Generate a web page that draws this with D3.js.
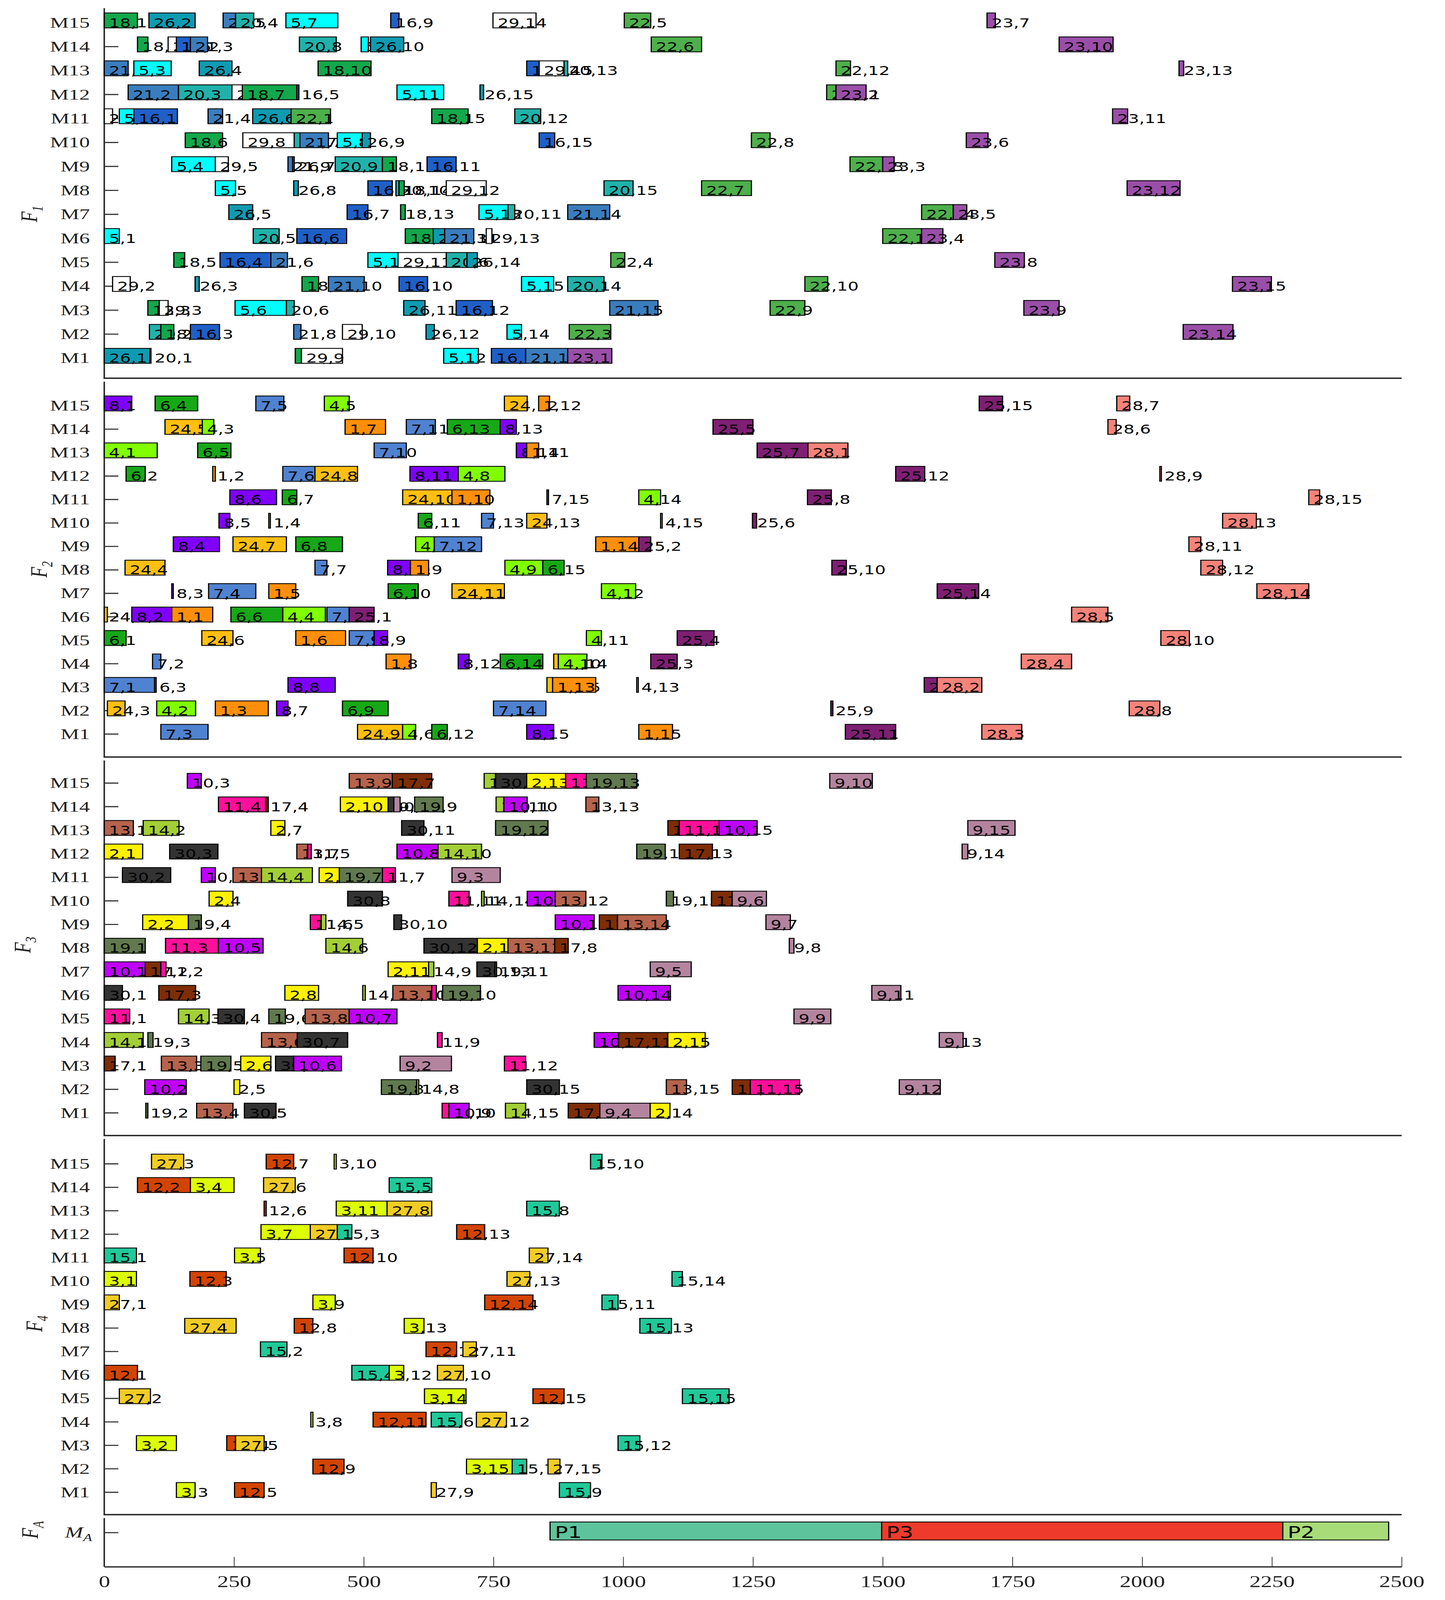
<!DOCTYPE html>
<html>
<head>
<meta charset="utf-8">
<script src="https://cdn.jsdelivr.net/npm/d3@7"></script>
<style>
  html, body { margin: 0; padding: 0; background: #fff; overflow: hidden; }
  #chart svg { display: block; width: 100vw; height: 100vh; }
</style>
</head>
<body>
<div id="chart"></div>
<script>
// machines, top row first
const machines = ["M15","M14","M13","M12","M11","M10","M9","M8","M7","M6","M5","M4","M3","M2","M1"];
const xTicks = [0, 250, 500, 750, 1000, 1250, 1500, 1750, 2000, 2250, 2500];

// [machine, start, end, "job,operation"]
const tasksF1 = [
  ["M15",0,64,"18,1"],["M15",86,175,"26,2"],["M15",229,253,"21,5"],["M15",253,288,"20,4"],
  ["M15",350,450,"5,7"],["M15",552,568,"16,9"],["M15",749,832,"29,14"],["M15",1002,1053,"22,5"],
  ["M15",1701,1717,"23,7"],
  ["M14",64,84,"18,2"],["M14",123,139,"29,6"],["M14",139,166,"16,2"],["M14",166,199,"21,3"],
  ["M14",376,447,"20,8"],["M14",495,509,"5,9"],["M14",513,577,"26,10"],["M14",1054,1151,"22,6"],
  ["M14",1840,1944,"23,10"],
  ["M13",0,46,"21,1"],["M13",57,129,"5,3"],["M13",183,246,"26,4"],["M13",412,514,"18,10"],
  ["M13",814,838,"16,14"],["M13",838,886,"29,15"],["M13",886,893,"20,13"],["M13",1410,1438,"22,12"],
  ["M13",2071,2080,"23,13"],
  ["M12",46,143,"21,2"],["M12",143,246,"20,3"],["M12",246,266,"29,4"],["M12",266,371,"18,7"],
  ["M12",371,375,"16,5"],["M12",564,654,"5,11"],["M12",724,731,"26,15"],["M12",1392,1410,"22,11"],
  ["M12",1410,1468,"23,2"],
  ["M11",0,16,"29,1"],["M11",29,57,"5,2"],["M11",57,141,"16,1"],["M11",200,228,"21,4"],
  ["M11",286,360,"26,6"],["M11",360,436,"22,1"],["M11",631,701,"18,15"],["M11",791,841,"20,12"],
  ["M11",1943,1972,"23,11"],
  ["M10",156,228,"18,6"],["M10",267,366,"29,8"],["M10",366,377,"20,7"],["M10",377,432,"21,7"],
  ["M10",449,497,"5,8"],["M10",497,513,"26,9"],["M10",838,868,"16,15"],["M10",1247,1283,"22,8"],
  ["M10",1661,1703,"23,6"],
  ["M9",130,214,"5,4"],["M9",214,239,"29,5"],["M9",354,363,"21,9"],["M9",363,366,"26,7"],
  ["M9",445,536,"20,9"],["M9",536,563,"18,11"],["M9",622,678,"16,11"],["M9",1437,1500,"22,13"],
  ["M9",1500,1522,"23,3"],
  ["M8",214,253,"5,5"],["M8",365,374,"26,8"],["M8",508,555,"16,8"],["M8",562,568,"20,10"],
  ["M8",568,578,"18,14"],["M8",659,736,"29,12"],["M8",963,1019,"20,15"],["M8",1151,1247,"22,7"],
  ["M8",1971,2073,"23,12"],
  ["M7",240,286,"26,5"],["M7",468,508,"16,7"],["M7",571,580,"18,13"],["M7",722,778,"5,13"],
  ["M7",778,791,"20,11"],["M7",893,974,"21,14"],["M7",1575,1636,"22,14"],["M7",1636,1662,"23,5"],
  ["M6",0,29,"5,1"],["M6",287,337,"20,5"],["M6",371,467,"16,6"],["M6",580,634,"18,12"],
  ["M6",634,656,"26,13"],["M6",656,712,"21,11"],["M6",736,747,"29,13"],["M6",1500,1575,"22,15"],
  ["M6",1575,1616,"23,4"],
  ["M5",134,155,"18,5"],["M5",223,321,"16,4"],["M5",321,353,"21,6"],["M5",508,566,"5,10"],
  ["M5",566,659,"29,11"],["M5",659,699,"20,6"],["M5",699,719,"26,14"],["M5",976,1003,"22,4"],
  ["M5",1716,1773,"23,8"],
  ["M4",16,50,"29,2"],["M4",175,183,"26,3"],["M4",381,413,"18,8"],["M4",432,501,"21,10"],
  ["M4",568,623,"16,10"],["M4",804,866,"5,15"],["M4",893,963,"20,14"],["M4",1350,1394,"22,10"],
  ["M4",2174,2249,"23,15"],
  ["M3",84,106,"18,3"],["M3",106,123,"29,3"],["M3",252,351,"5,6"],["M3",351,366,"20,6"],
  ["M3",577,618,"26,11"],["M3",678,748,"16,12"],["M3",974,1067,"21,15"],["M3",1283,1350,"22,9"],
  ["M3",1772,1840,"23,9"],
  ["M2",87,109,"20,2"],["M2",109,134,"18,4"],["M2",166,222,"16,3"],["M2",365,379,"21,8"],
  ["M2",459,497,"29,10"],["M2",620,636,"26,12"],["M2",776,804,"5,14"],["M2",896,976,"22,3"],
  ["M2",2079,2175,"23,14"],
  ["M1",0,88,"26,1"],["M1",88,90,"20,1"],["M1",368,380,"18,9"],["M1",380,459,"29,9"],
  ["M1",654,721,"5,12"],["M1",746,812,"16,13"],["M1",812,893,"21,13"],["M1",893,978,"23,1"]
];

const tasksF2 = [
  ["M15",0,53,"8,1"],["M15",98,180,"6,4"],["M15",292,346,"7,5"],["M15",424,472,"4,5"],
  ["M15",771,815,"24,12"],["M15",837,858,"1,12"],["M15",1686,1731,"25,15"],["M15",1951,1976,"28,7"],
  ["M14",117,189,"24,5"],["M14",189,211,"4,3"],["M14",464,542,"1,7"],["M14",582,638,"7,11"],
  ["M14",661,763,"6,13"],["M14",763,794,"8,13"],["M14",1173,1250,"25,5"],["M14",1934,1950,"28,6"],
  ["M13",0,102,"4,1"],["M13",180,244,"6,5"],["M13",520,582,"7,10"],["M13",794,814,"8,14"],
  ["M13",814,837,"1,11"],["M13",1258,1356,"25,7"],["M13",1356,1433,"28,1"],
  ["M12",42,79,"6,2"],["M12",209,214,"1,2"],["M12",344,406,"7,6"],["M12",406,488,"24,8"],
  ["M12",589,682,"8,11"],["M12",682,772,"4,8"],["M12",1525,1581,"25,12"],["M12",2034,2037,"28,9"],
  ["M11",242,332,"8,6"],["M11",343,371,"6,7"],["M11",575,670,"24,10"],["M11",670,743,"1,10"],
  ["M11",853,856,"7,15"],["M11",1030,1072,"4,14"],["M11",1355,1401,"25,8"],["M11",2321,2342,"28,15"],
  ["M10",221,242,"8,5"],["M10",317,320,"1,4"],["M10",605,631,"6,11"],["M10",727,750,"7,13"],
  ["M10",814,853,"24,13"],["M10",1072,1075,"4,15"],["M10",1249,1257,"25,6"],["M10",2155,2220,"28,13"],
  ["M9",133,222,"8,4"],["M9",248,351,"24,7"],["M9",369,459,"6,8"],["M9",600,636,"4,7"],
  ["M9",636,727,"7,12"],["M9",947,1030,"1,14"],["M9",1030,1053,"25,2"],["M9",2090,2113,"28,11"],
  ["M8",40,117,"24,4"],["M8",406,429,"7,7"],["M8",546,590,"8,10"],["M8",590,625,"1,9"],
  ["M8",772,845,"4,9"],["M8",845,886,"6,15"],["M8",1402,1430,"25,10"],["M8",2113,2155,"28,12"],
  ["M7",130,133,"8,3"],["M7",201,292,"7,4"],["M7",317,369,"1,5"],["M7",547,605,"6,10"],
  ["M7",670,771,"24,11"],["M7",958,1024,"4,12"],["M7",1605,1685,"25,14"],["M7",2221,2321,"28,14"],
  ["M6",0,6,"24,2"],["M6",53,130,"8,2"],["M6",130,209,"1,1"],["M6",244,344,"6,6"],
  ["M6",344,426,"4,4"],["M6",429,472,"7,8"],["M6",472,520,"25,1"],["M6",1864,1934,"28,5"],
  ["M5",0,42,"6,1"],["M5",188,248,"24,6"],["M5",369,465,"1,6"],["M5",472,520,"7,9"],
  ["M5",520,546,"8,9"],["M5",929,958,"4,11"],["M5",1104,1175,"25,4"],["M5",2036,2091,"28,10"],
  ["M4",93,109,"7,2"],["M4",543,591,"1,8"],["M4",682,703,"8,12"],["M4",763,845,"6,14"],
  ["M4",866,875,"24,14"],["M4",875,930,"4,10"],["M4",1053,1104,"25,3"],["M4",1767,1864,"28,4"],
  ["M3",0,97,"7,1"],["M3",97,100,"6,3"],["M3",354,445,"8,8"],["M3",853,864,"24,15"],
  ["M3",864,947,"1,13"],["M3",1026,1029,"4,13"],["M3",1580,1605,"25,13"],["M3",1605,1691,"28,2"],
  ["M2",6,40,"24,3"],["M2",101,176,"4,2"],["M2",214,316,"1,3"],["M2",332,354,"8,7"],
  ["M2",459,547,"6,9"],["M2",750,851,"7,14"],["M2",1400,1404,"25,9"],["M2",1975,2034,"28,8"],
  ["M1",109,200,"7,3"],["M1",488,575,"24,9"],["M1",575,600,"4,6"],["M1",631,661,"6,12"],
  ["M1",814,866,"8,15"],["M1",1030,1095,"1,15"],["M1",1428,1525,"25,11"],["M1",1691,1768,"28,3"]
];

const tasksF3 = [
  ["M15",160,187,"10,3"],["M15",472,555,"13,9"],["M15",555,631,"17,7"],["M15",732,754,"14,12"],
  ["M15",754,814,"30,14"],["M15",814,889,"2,13"],["M15",889,929,"11,13"],["M15",929,1026,"19,13"],
  ["M15",1398,1480,"9,10"],
  ["M14",220,311,"11,4"],["M14",311,316,"17,4"],["M14",455,547,"2,10"],["M14",547,558,"30,9"],
  ["M14",558,570,"9,1"],["M14",598,653,"19,9"],["M14",755,770,"14,11"],["M14",770,815,"10,10"],
  ["M14",928,953,"13,13"],
  ["M13",0,56,"13,1"],["M13",75,144,"14,2"],["M13",321,348,"2,7"],["M13",573,616,"30,11"],
  ["M13",754,855,"19,12"],["M13",1086,1108,"17,12"],["M13",1108,1185,"11,14"],["M13",1185,1258,"10,15"],
  ["M13",1664,1755,"9,15"],
  ["M12",0,74,"2,1"],["M12",126,219,"30,3"],["M12",371,392,"13,7"],["M12",392,399,"11,5"],
  ["M12",564,643,"10,8"],["M12",643,727,"14,10"],["M12",1026,1081,"19,14"],["M12",1108,1172,"17,13"],
  ["M12",1653,1664,"9,14"],
  ["M11",35,128,"30,2"],["M11",187,214,"10,4"],["M11",248,303,"13,5"],["M11",303,401,"14,4"],
  ["M11",414,453,"2,9"],["M11",453,536,"19,7"],["M11",536,561,"11,7"],["M11",670,763,"9,3"],
  ["M10",202,248,"2,4"],["M10",469,536,"30,8"],["M10",664,703,"11,11"],["M10",727,732,"14,14"],
  ["M10",815,869,"10,12"],["M10",869,928,"13,12"],["M10",1083,1097,"19,15"],["M10",1170,1210,"17,14"],
  ["M10",1210,1276,"9,6"],
  ["M9",74,162,"2,2"],["M9",162,187,"19,4"],["M9",397,418,"11,6"],["M9",418,427,"14,5"],
  ["M9",558,573,"30,10"],["M9",869,944,"10,11"],["M9",954,989,"17,10"],["M9",989,1083,"13,14"],
  ["M9",1275,1322,"9,7"],
  ["M8",0,79,"19,1"],["M8",118,220,"11,3"],["M8",220,306,"10,5"],["M8",427,498,"14,6"],
  ["M8",616,719,"30,12"],["M8",719,778,"2,12"],["M8",778,868,"13,11"],["M8",868,894,"17,8"],
  ["M8",1320,1329,"9,8"],
  ["M7",0,79,"10,1"],["M7",79,109,"17,2"],["M7",109,119,"11,2"],["M7",547,625,"2,11"],
  ["M7",625,635,"14,9"],["M7",718,753,"30,13"],["M7",753,756,"19,11"],["M7",1052,1131,"9,5"],
  ["M6",0,35,"30,1"],["M6",105,176,"17,3"],["M6",348,413,"2,8"],["M6",498,503,"14,7"],
  ["M6",556,631,"13,10"],["M6",631,640,"11,8"],["M6",652,725,"19,10"],["M6",990,1091,"10,14"],
  ["M6",1479,1535,"9,11"],
  ["M5",0,49,"11,1"],["M5",143,202,"14,3"],["M5",219,270,"30,4"],["M5",317,349,"19,6"],
  ["M5",387,472,"13,8"],["M5",472,564,"10,7"],["M5",1329,1400,"9,9"],
  ["M4",0,75,"14,1"],["M4",84,94,"19,3"],["M4",303,372,"13,6"],["M4",372,469,"30,7"],
  ["M4",642,651,"11,9"],["M4",944,991,"10,13"],["M4",991,1086,"17,11"],["M4",1086,1158,"2,15"],
  ["M4",1609,1655,"9,13"],
  ["M3",0,21,"17,1"],["M3",110,178,"13,3"],["M3",186,244,"19,5"],["M3",263,321,"2,6"],
  ["M3",330,365,"30,6"],["M3",365,457,"10,6"],["M3",570,669,"9,2"],["M3",771,812,"11,12"],
  ["M2",78,158,"10,2"],["M2",250,261,"2,5"],["M2",534,602,"19,8"],["M2",602,606,"14,8"],
  ["M2",814,877,"30,15"],["M2",1083,1122,"13,15"],["M2",1210,1245,"17,15"],["M2",1245,1340,"11,15"],
  ["M2",1532,1611,"9,12"],
  ["M1",80,84,"19,2"],["M1",178,248,"13,4"],["M1",270,331,"30,5"],["M1",651,664,"11,10"],
  ["M1",664,703,"10,9"],["M1",773,812,"14,15"],["M1",894,955,"17,9"],["M1",955,1052,"9,4"],
  ["M1",1052,1090,"2,14"]
];

const tasksF4 = [
  ["M15",91,153,"27,3"],["M15",312,365,"12,7"],["M15",443,447,"3,10"],["M15",937,959,"15,10"],
  ["M14",64,166,"12,2"],["M14",166,250,"3,4"],["M14",307,368,"27,6"],["M14",549,631,"15,5"],
  ["M13",308,312,"12,6"],["M13",447,545,"3,11"],["M13",545,631,"27,8"],["M13",814,877,"15,8"],
  ["M12",302,397,"3,7"],["M12",397,449,"27,7"],["M12",449,477,"15,3"],["M12",679,733,"12,13"],
  ["M11",0,62,"15,1"],["M11",251,301,"3,5"],["M11",462,518,"12,10"],["M11",819,855,"27,14"],
  ["M10",0,62,"3,1"],["M10",165,235,"12,3"],["M10",776,820,"27,13"],["M10",1094,1114,"15,14"],
  ["M9",0,29,"27,1"],["M9",402,445,"3,9"],["M9",733,826,"12,14"],["M9",959,990,"15,11"],
  ["M8",155,254,"27,4"],["M8",366,402,"12,8"],["M8",578,616,"3,13"],["M8",1032,1093,"15,13"],
  ["M7",301,352,"15,2"],["M7",620,679,"12,12"],["M7",691,717,"27,11"],
  ["M6",0,64,"12,1"],["M6",477,549,"15,4"],["M6",549,577,"3,12"],["M6",642,692,"27,10"],
  ["M5",29,89,"27,2"],["M5",617,697,"3,14"],["M5",826,886,"12,15"],["M5",1114,1204,"15,15"],
  ["M4",398,402,"3,8"],["M4",518,620,"12,11"],["M4",630,689,"15,6"],["M4",717,775,"27,12"],
  ["M3",62,139,"3,2"],["M3",236,253,"12,4"],["M3",253,308,"27,5"],["M3",990,1032,"15,12"],
  ["M2",402,462,"12,9"],["M2",698,786,"3,15"],["M2",786,814,"15,7"],["M2",855,878,"27,15"],
  ["M1",139,175,"3,3"],["M1",251,308,"12,5"],["M1",630,640,"27,9"],["M1",877,937,"15,9"]
];

// assembly machine
const assembly = [["MA",859,1498,"P1"],["MA",1498,2271,"P3"],["MA",2271,2475,"P2"]];

const jobColors = {
  5:"#00FFFF", 16:"#1E5FC8", 18:"#12A84B", 20:"#20B2AA", 21:"#3A7DBE", 22:"#4DB04A",
  23:"#9A4EA8", 26:"#0E9BB2", 29:"#FFFFFF",
  1:"#FF8F0A", 4:"#80FF00", 6:"#16A816", 7:"#4F82D0", 8:"#8000FF", 24:"#FFBF10",
  25:"#7E1F73", 28:"#F5837A",
  2:"#FFF200", 9:"#B4849F", 10:"#C000FF", 11:"#FF0F9A", 13:"#B5634C", 14:"#A2CF35",
  17:"#7E2D05", 19:"#61794E", 30:"#333333",
  3:"#DDFF00", 12:"#D24400", 15:"#20C99A", 27:"#F2CC24"
};
const productColors = {P1:"#5DC39D", P3:"#EE3A2A", P2:"#A8DC78"};

// drawing is done in a 3700 x 5681 coordinate system that fills the window
const W = 3700, H = 5681;
const axisX = 267;
const svg = d3.select("#chart").append("svg")
    .attr("viewBox", `0 0 ${W} ${H}`)
    .attr("preserveAspectRatio", "none")
    .style("background", "#fff");

const x = d3.scaleLinear().domain([0, 2500]).range([axisX, 3589]);

const panels = [
  {sub:"1", tasks:tasksF1, top:29,   bottom:1343, yTop:80,   yBot:1271, lx:75,  ly:760},
  {sub:"2", tasks:tasksF2, top:1355, bottom:2688, yTop:1440, yBot:2606, lx:100, ly:2022},
  {sub:"3", tasks:tasksF3, top:2700, bottom:4032, yTop:2780, yBot:3951, lx:58,  ly:3355},
  {sub:"4", tasks:tasksF4, top:4044, bottom:5378, yTop:4132, yBot:5298, lx:88,  ly:4700}
];

function drawBars(g, tasks, y, colorOf, barH, offset, fontSize) {
  // later starts are drawn on top of earlier labels
  const sorted = tasks.slice().sort((a, b) => a[1] - b[1]);
  const items = g.selectAll("g.task").data(sorted).join("g").attr("class", "task");
  items.append("rect")
      .attr("x", d => x(d[1]))
      .attr("y", d => y(d[0]) - offset - barH / 2)
      .attr("width", d => Math.max(x(d[2]) - x(d[1]), 1))
      .attr("height", barH)
      .attr("fill", colorOf)
      .attr("stroke", "#000")
      .attr("stroke-width", 3);
  items.append("text")
      .attr("x", d => x(d[1]) + 12)
      .attr("y", d => y(d[0]) - offset + 24)
      .attr("font-family", "DejaVu Sans")
      .attr("font-size", fontSize)
      .attr("fill", "#000")
      .text(d => d[3]);
}

function sideLabel(lx, ly, main, sub) {
  const t = svg.append("text")
      .attr("transform", `translate(${lx},${ly}) rotate(-90)`)
      .attr("y", 20)
      .attr("text-anchor", "middle")
      .attr("font-family", "Liberation Serif")
      .attr("font-style", "italic")
      .attr("font-size", 62)
      .attr("fill", "#222");
  t.append("tspan").text(main);
  t.append("tspan").attr("dy", 14).attr("font-size", 40).text(sub);
}

panels.forEach(p => {
  const y = d3.scalePoint().domain(machines).range([p.yTop, p.yBot]);
  const g = svg.append("g");

  const ya = g.append("g")
      .attr("transform", `translate(${axisX},0)`)
      .call(d3.axisLeft(y).tickSizeInner(-36).tickSizeOuter(0).tickPadding(37));
  ya.select(".domain").remove();
  ya.selectAll(".tick line").attr("stroke", "#333").attr("stroke-width", 4);
  ya.selectAll(".tick text")
      .attr("font-family", "Liberation Serif")
      .attr("font-size", 54)
      .attr("fill", "#222");

  g.append("line")
      .attr("x1", axisX).attr("x2", axisX)
      .attr("y1", p.top).attr("y2", p.bottom)
      .attr("stroke", "#333").attr("stroke-width", 4);
  g.append("line")
      .attr("x1", axisX - 2).attr("x2", x(2500))
      .attr("y1", p.bottom).attr("y2", p.bottom)
      .attr("stroke", "#222").attr("stroke-width", 5);

  drawBars(g.append("g"), p.tasks, y, d => jobColors[+d[3].split(",")[0]], 53, 7.5, 44);
  sideLabel(p.lx, p.ly, "F", p.sub);
});

// assembly panel
const yA = d3.scalePoint().domain(["MA"]).range([5442, 5442]);
const gA = svg.append("g");
gA.append("line")
    .attr("x1", axisX).attr("x2", axisX)
    .attr("y1", 5390).attr("y2", 5563)
    .attr("stroke", "#333").attr("stroke-width", 4);
gA.append("line")
    .attr("x1", axisX).attr("x2", axisX + 36)
    .attr("y1", yA("MA")).attr("y2", yA("MA"))
    .attr("stroke", "#333").attr("stroke-width", 4);
const ma = gA.append("text")
    .attr("x", 236).attr("y", yA("MA") + 17)
    .attr("text-anchor", "end")
    .attr("font-family", "Liberation Serif")
    .attr("font-style", "italic")
    .attr("font-size", 56)
    .attr("fill", "#222");
ma.append("tspan").text("M");
ma.append("tspan").attr("dy", 12).attr("font-size", 38).text("A");
drawBars(gA.append("g"), assembly, yA, d => productColors[d[3]], 64, 6, 56);
sideLabel(77, 5432, "F", "A");

// x axis
const xa = svg.append("g")
    .attr("transform", "translate(0,5563)")
    .call(d3.axisBottom(x).tickValues(xTicks).tickFormat(d3.format("d"))
        .tickSizeInner(-35).tickSizeOuter(0).tickPadding(31));
xa.select(".domain").attr("stroke", "#333").attr("stroke-width", 5);
xa.selectAll(".tick line").attr("stroke", "#333").attr("stroke-width", 2);
xa.selectAll(".tick text")
    .attr("font-family", "Liberation Serif")
    .attr("font-size", 58)
    .attr("fill", "#222");
</script>
</body>
</html>
